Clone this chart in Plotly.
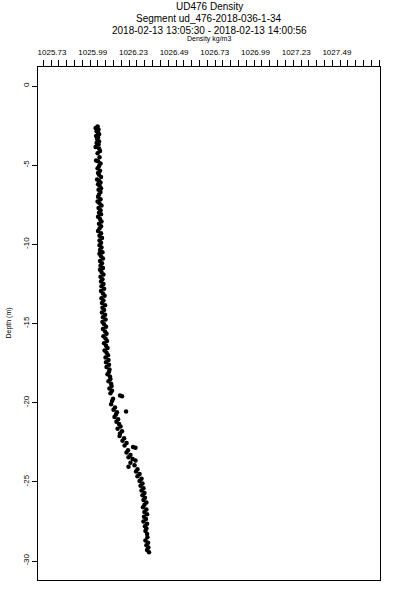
import plotly.graph_objects as go

# ---- data ----
depth = [
    -2.55, -2.65, -2.75, -2.85, -2.95, -3.05, -3.15, -3.25, -3.35, -3.5, -3.6, -3.7, -3.85, -3.95,
    -4.1, -4.25, -4.5, -4.7, -4.75, -4.9, -5.05, -5.2, -5.35, -5.5, -5.6, -5.75, -5.9, -6.0, -6.1,
    -6.2, -6.3, -6.45, -6.55, -6.7, -6.85, -7.0, -7.15, -7.3, -7.4, -7.55, -7.7, -7.85, -8.0, -8.1,
    -8.25, -8.4, -8.55, -8.7, -8.85, -9.0, -9.15, -9.3, -9.45, -9.6, -9.75, -9.9,
    -10.05, -10.2, -10.35, -10.5, -10.6, -10.75, -10.9, -11.05, -11.2, -11.35, -11.5, -11.6, -11.75,
    -11.9, -12.05, -12.2, -12.35, -12.5, -12.65, -12.8, -12.95, -13.1, -13.25, -13.4, -13.55, -13.7,
    -13.85, -14.0, -14.15, -14.3, -14.45, -14.6, -14.75, -14.9,
    -15.05, -15.2, -15.35, -15.5, -15.65, -15.8, -15.95, -16.1, -16.25, -16.4, -16.55, -16.7, -16.85,
    -17.0, -17.15, -17.3, -17.45, -17.6, -17.75, -17.9,
    -18.05, -18.2, -18.35, -18.5, -18.65, -18.8, -18.95, -19.1, -19.25, -19.4, -19.55, -19.6, -19.75,
    -19.9, -20.1,
    -20.3, -20.45, -20.6, -20.55, -20.75, -20.9, -21.05, -21.2, -21.35, -21.5, -21.65, -21.8, -21.95,
    -22.1, -22.25, -22.4, -22.55, -22.7, -22.8, -22.85, -23.0, -23.15, -23.3, -23.45, -23.55, -23.65,
    -23.8, -23.95, -24.05, -24.2,
    -24.35, -24.5, -24.65, -24.8, -24.95, -25.1, -25.25, -25.4, -25.55, -25.7, -25.85,
    -26.0, -26.15, -26.3, -26.45, -26.6, -26.75, -26.9, -27.05, -27.2, -27.35, -27.5, -27.65, -27.8,
    -27.95, -28.1, -28.3, -28.5, -28.7, -28.85, -29.0, -29.15, -29.3, -29.45,
]
density = [
    1026.010, 1025.998, 1026.016, 1026.004, 1026.013, 1026.019, 1026.001, 1026.013, 1026.007, 1026.019,
    1026.004, 1026.016, 1025.998, 1026.019, 1026.025, 1026.010, 1026.022, 1026.001, 1026.013, 1026.028,
    1026.019, 1026.010, 1026.025, 1026.013, 1026.019, 1026.031, 1026.007, 1026.019, 1026.028, 1026.013,
    1026.022, 1026.031, 1026.016, 1026.028, 1026.019, 1026.013, 1026.028, 1026.010, 1026.022, 1026.034,
    1026.016, 1026.028, 1026.019, 1026.031, 1026.013, 1026.025, 1026.034, 1026.019, 1026.031, 1026.022,
    1026.013, 1026.031, 1026.022, 1026.037, 1026.022, 1026.031,
    1026.022, 1026.034, 1026.025, 1026.040, 1026.022, 1026.031, 1026.043, 1026.025, 1026.037, 1026.028,
    1026.043, 1026.025, 1026.034, 1026.046, 1026.028, 1026.040, 1026.031, 1026.046, 1026.034, 1026.050,
    1026.031, 1026.043, 1026.053, 1026.034, 1026.046, 1026.037, 1026.056, 1026.040, 1026.050, 1026.037,
    1026.056, 1026.043, 1026.059, 1026.040,
    1026.050, 1026.062, 1026.043, 1026.056, 1026.065, 1026.046, 1026.059, 1026.068, 1026.050, 1026.062,
    1026.071, 1026.053, 1026.065, 1026.074, 1026.059, 1026.077, 1026.062, 1026.080, 1026.065, 1026.083,
    1026.080, 1026.071, 1026.086, 1026.089, 1026.077, 1026.093, 1026.096, 1026.083, 1026.099, 1026.089,
    1026.148, 1026.160, 1026.105, 1026.099, 1026.093,
    1026.117, 1026.108, 1026.129, 1026.185, 1026.123, 1026.114, 1026.136, 1026.126, 1026.142, 1026.151,
    1026.133, 1026.160, 1026.148,
    1026.145, 1026.173, 1026.163, 1026.188, 1026.176, 1026.228, 1026.243, 1026.197, 1026.188, 1026.212,
    1026.200, 1026.225, 1026.243, 1026.212, 1026.237, 1026.200, 1026.255,
    1026.246, 1026.268, 1026.255, 1026.280, 1026.268, 1026.286, 1026.274, 1026.292, 1026.280, 1026.298,
    1026.286,
    1026.301, 1026.292, 1026.310, 1026.298, 1026.289, 1026.310, 1026.298, 1026.314, 1026.295, 1026.307,
    1026.292, 1026.314, 1026.301, 1026.310, 1026.304, 1026.314, 1026.316, 1026.304, 1026.320, 1026.310,
    1026.322, 1026.314, 1026.326,
]

x_label_vals = [1025.73, 1025.98, 1026.23, 1026.48, 1026.73, 1026.98, 1027.23, 1027.48]
x_label_text = ["1025.73", "1025.99", "1026.23", "1026.49", "1026.73", "1026.99", "1027.23", "1027.49"]
y_tick_vals = [0, -5, -10, -15, -20, -25, -30]
y_tick_text = ["0", "-5", "-10", "-15", "-20", "-25", "-30"]

title_lines = ["UD476 Density", "Segment ud_476-2018-036-1-34",
               "2018-02-13 13:05:30 - 2018-02-13 14:00:56"]
x_title = "Density kg/m3"
y_title = "Depth (m)"

X_RANGE = [1025.644, 1027.745]
Y_RANGE = [-31.2, 1.2]
FONT = "Liberation Sans"

fig = go.Figure()
fig.add_trace(go.Scatter(
    x=density, y=depth, mode="markers",
    marker=dict(color="black", size=4.5, line=dict(width=0)),
    showlegend=False, hoverinfo="skip",
))
# invisible trace to carry the label axis
fig.add_trace(go.Scatter(x=[], y=[], xaxis="x2", yaxis="y", showlegend=False))

fig.update_layout(
    width=400, height=600,
    margin=dict(l=38, r=20, t=67, b=20),
    paper_bgcolor="white", plot_bgcolor="white",
    font=dict(family=FONT, color="black"),
    xaxis=dict(
        side="top", range=X_RANGE, showgrid=False, zeroline=False,
        showline=True, linecolor="black", linewidth=1, mirror=True,
        ticks="outside", ticklen=6, tickcolor="black", tickwidth=1,
        tickmode="linear", tick0=1025.724, dtick=0.048,
        showticklabels=False,
    ),
    xaxis2=dict(
        overlaying="x", side="top", range=X_RANGE, showgrid=False, zeroline=False,
        showline=False, tickmode="array", tickvals=x_label_vals, ticktext=x_label_text,
        ticks="outside", ticklen=8, tickcolor="rgba(0,0,0,0)",
        tickfont=dict(size=8, family=FONT, color="black"), anchor="y",
    ),
    yaxis=dict(
        range=Y_RANGE, showgrid=False, zeroline=False,
        showline=True, linecolor="black", linewidth=1, mirror=True,
        ticks="outside", ticklen=5, tickcolor="black", tickwidth=1,
        tickmode="array", tickvals=y_tick_vals, ticktext=y_tick_text,
        tickangle=-90, tickfont=dict(size=8, family=FONT, color="black"),
    ),
)

title_y = [1.117, 1.0955, 1.0702]
for txt, yy in zip(title_lines, title_y):
    fig.add_annotation(text=txt, x=0.5, y=yy, xref="paper", yref="paper",
                       showarrow=False, xanchor="center", yanchor="middle",
                       font=dict(size=10, family=FONT, color="black"))
fig.add_annotation(text=x_title, x=0.5, y=1.0546, xref="paper", yref="paper",
                   showarrow=False, xanchor="center", yanchor="middle",
                   font=dict(size=7, family=FONT, color="black"))
fig.add_annotation(text=y_title, x=-0.0877, y=0.5, xref="paper", yref="paper",
                   showarrow=False, xanchor="center", yanchor="middle", textangle=-90,
                   font=dict(size=7, family=FONT, color="black"))

fig.write_html(
    "out.html",
    config={"displayModeBar": False},
    post_script="document.body.style.margin='0px';document.body.style.overflow='hidden';",
)
